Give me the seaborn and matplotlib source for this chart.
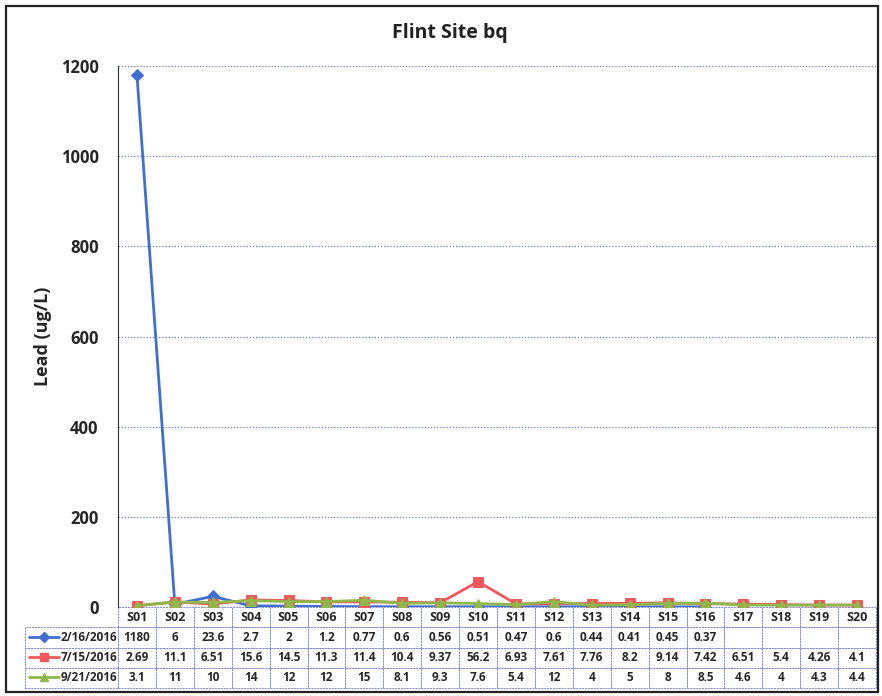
import numpy as np
import pandas as pd
import matplotlib
matplotlib.use("Agg")
import matplotlib.pyplot as plt
import seaborn as sns

# Sample sites and the three sampling dates
sites = ["S%02d" % i for i in range(1, 21)]
dates = ["2/16/2016", "7/15/2016", "9/21/2016"]

lead_feb = [1180, 6, 23.6, 2.7, 2, 1.2, 0.77, 0.6, 0.56, 0.51, 0.47, 0.6,
            0.44, 0.41, 0.45, 0.37, None, None, None, None]
lead_jul = [2.69, 11.1, 6.51, 15.6, 14.5, 11.3, 11.4, 10.4, 9.37, 56.2, 6.93,
            7.61, 7.76, 8.2, 9.14, 7.42, 6.51, 5.4, 4.26, 4.1]
lead_sep = [3.1, 11, 10, 14, 12, 12, 15, 8.1, 9.3, 7.6, 5.4, 12, 4, 5, 8,
            8.5, 4.6, 4, 4.3, 4.4]

series = [lead_feb, lead_jul, lead_sep]
colors = ["#3f6fcf", "#f0585c", "#8fb84a"]
markers = ["D", "s", "^"]

rows = []
for d, vals in zip(dates, series):
    for s, v in zip(sites, vals):
        rows.append({"Site": s, "Date": d, "Lead": v})
df = pd.DataFrame(rows)
df["x"] = df["Site"].map({s: i for i, s in enumerate(sites)})

sns.set_style("white")
plt.rcParams["font.family"] = ["Open Sans", "DejaVu Sans"]
plt.rcParams["font.weight"] = "bold"

W, H = 882, 696
fig = plt.figure(figsize=(W / 100, H / 100), dpi=100)

# outer chart frame
fig.patches.append(plt.Rectangle((6 / W, 1 - 692 / H), 872 / W, 686 / H,
                                 transform=fig.transFigure, fill=False,
                                 edgecolor="#222222", linewidth=1.6))

x0, x1, y0, y1 = 118, 876, 66, 607
ax = fig.add_axes([x0 / W, 1 - y1 / H, (x1 - x0) / W, (y1 - y0) / H])

for d, c, m in zip(dates, colors, markers):
    sub = df[df["Date"] == d].dropna()
    sns.lineplot(data=sub, x="x", y="Lead", ax=ax, color=c, marker=m,
                 markersize=7 if m != "D" else 6, markeredgecolor=c,
                 linewidth=2, legend=False, zorder=3)

ax.set_xlim(-0.5, len(sites) - 0.5)
ax.set_ylim(0, 1200)
ax.set_yticks(np.arange(0, 1201, 200))
ax.tick_params(axis="y", labelsize=12, length=0, pad=14)
ax.set_yticklabels([str(v) for v in range(0, 1201, 200)], fontweight="bold")
ax.set_xticks([])
ax.set_xlabel("")
ax.set_ylabel("Lead (ug/L)", fontsize=13, fontweight="bold", labelpad=6)
ax.grid(axis="y", color="#6a7fc8", linestyle=(0, (1, 1.5)), linewidth=0.9)
for side in ["top", "right"]:
    ax.spines[side].set_visible(False)
ax.spines["left"].set_color("#333333")
ax.spines["left"].set_linestyle((0, (1, 1)))
ax.spines["bottom"].set_visible(False)

fig.text(450 / W, 1 - 33 / H, "Flint Site bq", ha="center", va="center",
         fontsize=14, fontweight="bold", color="#222222")

# data table under the axis
def fmt(v):
    return "" if v is None else ("%g" % v)

cell_text = [[""] + sites]
for d, vals in zip(dates, series):
    cell_text.append([d] + [fmt(v) for v in vals])

tx0, ty1 = 25, 688
label_w = x0 - tx0
col_w = (x1 - x0) / len(sites)
widths = [label_w] + [col_w] * len(sites)
tot = sum(widths)
tbl = ax.table(cellText=cell_text, colWidths=[w / tot for w in widths],
               cellLoc="center",
               bbox=[(tx0 - x0) / (x1 - x0), -(ty1 - y1) / (y1 - y0),
                     (x1 - tx0) / (x1 - x0), (ty1 - y1) / (y1 - y0)])
tbl.auto_set_font_size(False)
tbl.set_fontsize(8.5)
for (r, c), cell in tbl.get_celld().items():
    cell.set_edgecolor("#7f86c9")
    cell.set_linewidth(0.7)
    cell.set_linestyle((0, (2, 1)))
    cell.get_text().set_fontweight("bold")
    if r == 0 and c == 0:
        cell.set_visible(False)
    if r == 0:
        cell.get_text().set_fontsize(9)
    if c == 0 and r > 0:
        cell.get_text().set_ha("right")
        cell._loc = "right"
        cell.PAD = 0.01

# legend keys in the row label cells
for i, (c, m) in enumerate(zip(colors, markers)):
    yc = 1 - (627 + 20 * i + 10) / H
    fig.add_artist(plt.Line2D([29 / W, 44 / W, 59 / W], [yc, yc, yc], color=c,
                              linewidth=2, marker=m, markevery=[1],
                              markersize=6 if m != "D" else 5,
                              transform=fig.transFigure))

fig.savefig("out.png", dpi=100)
